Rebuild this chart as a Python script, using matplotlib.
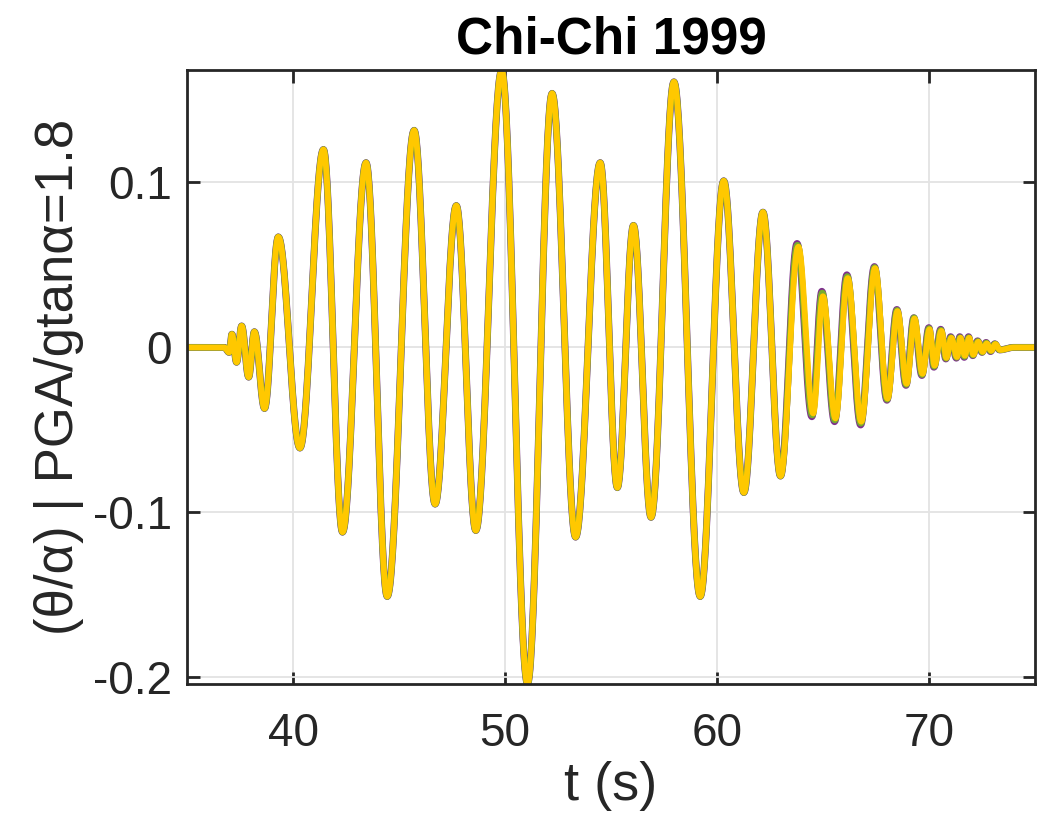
#moduli
import numpy as np
import matplotlib
matplotlib.use("Agg")
import matplotlib.pyplot as plt

plt.rcParams['font.family'] = ['Liberation Sans', 'DejaVu Sans']
plt.rcParams['axes.unicode_minus'] = False

#podaci - ekstremi ocitani sa slike (t u s, theta/alpha)
head_t = [35.0, 36.75, 36.98, 37.11, 37.33, 37.57, 37.90, 38.17, 38.65, 39.30, 40.32,
          41.43, 42.33, 43.44, 44.44, 45.71, 46.70, 47.70, 48.62, 49.84, 51.06, 52.22,
          53.33, 54.49, 55.30, 56.06, 56.89, 57.97, 59.21, 60.32, 61.27, 62.17, 63.00]
head_v = [0.0, 0.0, -0.003, 0.008, -0.009, 0.013, -0.018, 0.0095, -0.037, 0.067, -0.061,
          0.120, -0.112, 0.112, -0.151, 0.1316, -0.095, 0.086, -0.111, 0.168, -0.204, 0.154,
          -0.115, 0.112, -0.085, 0.074, -0.103, 0.161, -0.151, 0.101, -0.088, 0.082, -0.078]

#kraj zapisa - zuta
yel_t = [63.84, 64.54, 65.00, 65.59, 66.17, 66.81, 67.46, 68.05, 68.52, 68.95, 69.32, 69.70,
         70.03, 70.27, 70.59, 70.83, 71.06, 71.33, 71.49, 71.70, 71.90, 72.10, 72.33, 72.54,
         72.73, 72.94, 73.14, 73.36, 74.0, 75.0]
yel_v = [0.061, -0.040, 0.031, -0.043, 0.042, -0.045, 0.048, -0.031, 0.022, -0.022, 0.0175, -0.016,
         0.011, -0.011, 0.010, -0.0063, 0.0058, -0.0058, 0.0058, -0.005, 0.0058, -0.0044, 0.0034, -0.0027,
         0.0024, -0.002, 0.002, -0.0015, 0.0, 0.0]

#kraj zapisa - ljubicasta
pur_t = [63.78, 64.48, 64.95, 65.55, 66.13, 66.78, 67.43, 68.02, 68.49, 68.92, 69.29, 69.67,
         70.00, 70.24, 70.56, 70.80, 71.03, 71.30, 71.46, 71.67, 71.87, 72.07, 72.30, 72.51,
         72.70, 72.91, 73.11, 73.33, 74.0, 75.0]
pur_v = [0.063, -0.042, 0.034, -0.045, 0.044, -0.047, 0.049, -0.032, 0.023, -0.023, 0.018, -0.017,
         0.012, -0.012, 0.011, -0.007, 0.0065, -0.0065, 0.0065, -0.006, 0.0065, -0.005, 0.004, -0.003,
         0.003, -0.0025, 0.0022, -0.0015, 0.0, 0.0]

#kraj zapisa - zelena
grn_t = [63.80, 64.50, 64.97, 65.56, 66.15, 66.79, 67.44, 68.03, 68.50, 68.93, 69.30, 69.68,
         70.01, 70.25, 70.57, 70.81, 71.04, 71.31, 71.47, 71.68, 71.88, 72.08, 72.31, 72.52,
         72.71, 72.92, 73.12, 73.34, 74.0, 75.0]
grn_v = [0.062, -0.041, 0.033, -0.044, 0.043, -0.046, 0.0485, -0.0315, 0.0225, -0.0225, 0.018, -0.0165,
         0.0115, -0.0115, 0.0105, -0.0066, 0.006, -0.006, 0.006, -0.0055, 0.006, -0.0047, 0.0037, -0.0029,
         0.0027, -0.0022, 0.0021, -0.0015, 0.0, 0.0]


#krivulja kroz ekstreme (polukosinusni luk izmedu susjednih ekstrema)
def krivulja(tt, vv):
    xs, ys = [], []
    for i in range(len(tt) - 1):
        s = np.linspace(0, 1, 40, endpoint=False)
        xs.append(tt[i] + (tt[i + 1] - tt[i]) * s)
        ys.append(vv[i] + (vv[i + 1] - vv[i]) * (1 - np.cos(np.pi * s)) / 2)
    xs.append([tt[-1]])
    ys.append([vv[-1]])
    return np.concatenate(xs), np.concatenate(ys)


series = [
    (head_t + pur_t, head_v + pur_v, "#7E2F8E", 5.0),
    (head_t + grn_t, head_v + grn_v, "#77AC30", 4.7),
    (head_t + yel_t, head_v + yel_v, "#FFC800", 4.2),
]

#graf
fig = plt.figure(figsize=(10.4, 8.27), dpi=100)
ax = fig.add_axes([0.18, 0.173, 0.815, 0.742])

ymin, ymax = 0, 0
for tt, vv, c, lw in series:
    x, y = krivulja(tt, vv)
    ax.plot(x, y, color=c, lw=lw, solid_capstyle="round")
    ymin = min(ymin, y.min())
    ymax = max(ymax, y.max())

ax.set_xlim(35, 75)
ax.set_ylim(ymin, ymax)
ax.set_xticks([40, 50, 60, 70])
ax.set_yticks([-0.2, -0.1, 0, 0.1])
ax.set_yticklabels(["-0.2", "-0.1", "0", "0.1"])
ax.grid(True, color="#e3e3e3", lw=1.3)
ax.set_axisbelow(True)
ax.tick_params(direction="in", length=9, width=2, top=True, right=True,
               labelsize=33, colors="#262626")
ax.tick_params(axis="x", pad=20)
ax.tick_params(axis="y", pad=11)
for sp in ax.spines.values():
    sp.set_linewidth(2)
    sp.set_color("#262626")

ax.set_xlabel("t (s)", fontsize=39, color="#262626", labelpad=4)
ax.set_ylabel("(θ/α) | PGA/gtanα=1.8", fontsize=38, color="#262626", labelpad=6)
ax.set_title("Chi-Chi 1999", fontsize=37, fontweight="bold", pad=12)

plt.savefig("out.png", dpi=100)
